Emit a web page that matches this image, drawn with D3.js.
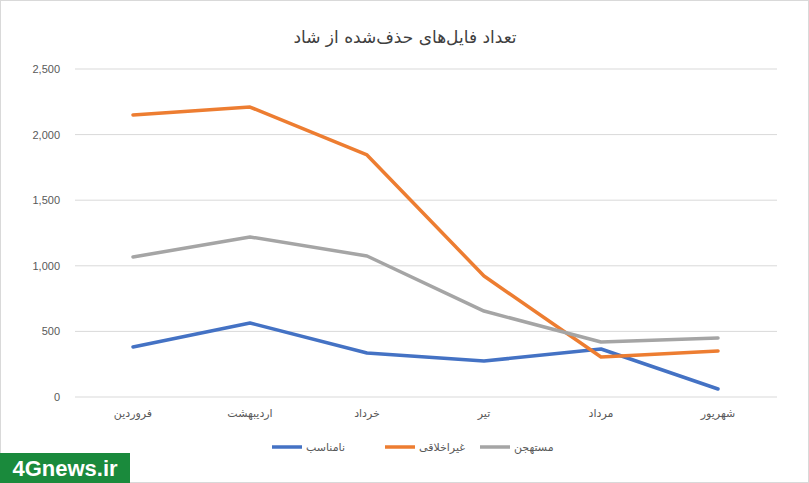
<!DOCTYPE html>
<html><head><meta charset="utf-8">
<script src="https://cdn.jsdelivr.net/npm/d3@7"></script>
<style>body{margin:0;background:#fff;font-family:"DejaVu Sans","Noto Sans",sans-serif}</style>
</head><body>
<script>
const categories = ["فروردین", "اردیبهشت", "خرداد", "تیر", "مرداد", "شهریور"];
const namonaseb = [381, 564, 335, 274, 366, 61];
const gheirakhlaghi = [2150, 2210, 1845, 922, 305, 351];
const mostahjan = [1067, 1220, 1075, 655, 419, 450];
const yTicks = [0, 500, 1000, 1500, 2000, 2500];
const series = [
  { name: "نامناسب", values: namonaseb, color: "#4472c4" },
  { name: "غیراخلاقی", values: gheirakhlaghi, color: "#ed7d31" },
  { name: "مستهجن", values: mostahjan, color: "#a5a5a5" }
];

const W = 809, H = 483;
const svg = d3.select("body").append("svg").attr("width", W).attr("height", H);
svg.append("rect").attr("x", 0.5).attr("y", 0.5).attr("width", W - 1).attr("height", H - 1)
  .attr("fill", "#fff").attr("stroke", "#d9d9d9");

const x = d3.scalePoint().domain(categories).range([133, 718]).padding(0);
const y = d3.scaleLinear().domain([0, 2500]).range([397, 69]);

svg.append("g").selectAll("line").data(yTicks).enter().append("line")
  .attr("x1", 75).attr("x2", 777).attr("y1", d => y(d)).attr("y2", d => y(d))
  .attr("stroke", "#d9d9d9");

svg.append("g").selectAll("text").data(yTicks).enter().append("text")
  .attr("x", 60).attr("y", d => y(d) + 4).attr("text-anchor", "end")
  .attr("font-size", 11).attr("fill", "#595959").attr("font-family", "Liberation Sans, sans-serif")
  .text(d => d3.format(",")(d));

svg.append("g").selectAll("text").data(categories).enter().append("text")
  .attr("x", d => x(d)).attr("y", 417).attr("text-anchor", "middle")
  .attr("font-size", 11).attr("fill", "#595959").text(d => d);

const line = d3.line().x((d, i) => x(categories[i])).y(d => y(d));
series.forEach(s => {
  svg.append("path").datum(s.values).attr("d", line).attr("fill", "none")
    .attr("stroke", s.color).attr("stroke-width", 3.5).attr("stroke-linejoin", "round").attr("stroke-linecap", "round");
});

svg.append("text").attr("x", 405).attr("y", 43).attr("text-anchor", "middle")
  .attr("font-size", 17).attr("fill", "#404040").text("تعداد فایل‌های حذف‌شده از شاد");

const legX = [272, 385, 480];
series.forEach((s, i) => {
  const g = svg.append("g").attr("transform", `translate(${legX[i]},447)`);
  g.append("line").attr("x1", 0).attr("x2", 30).attr("stroke", s.color).attr("stroke-width", 3.5);
  g.append("text").attr("x", 34).attr("y", 4).attr("font-size", 11).attr("fill", "#595959").text(s.name);
});

svg.append("rect").attr("x", 0).attr("y", 453).attr("width", 130).attr("height", 30).attr("fill", "#1a8a3c");
svg.append("text").attr("x", 65).attr("y", 476).attr("text-anchor", "middle").attr("font-size", 22)
  .attr("font-weight", "bold").attr("fill", "#fff").attr("font-family", "Liberation Sans, sans-serif").text("4Gnews.ir");
</script>
</body></html>
